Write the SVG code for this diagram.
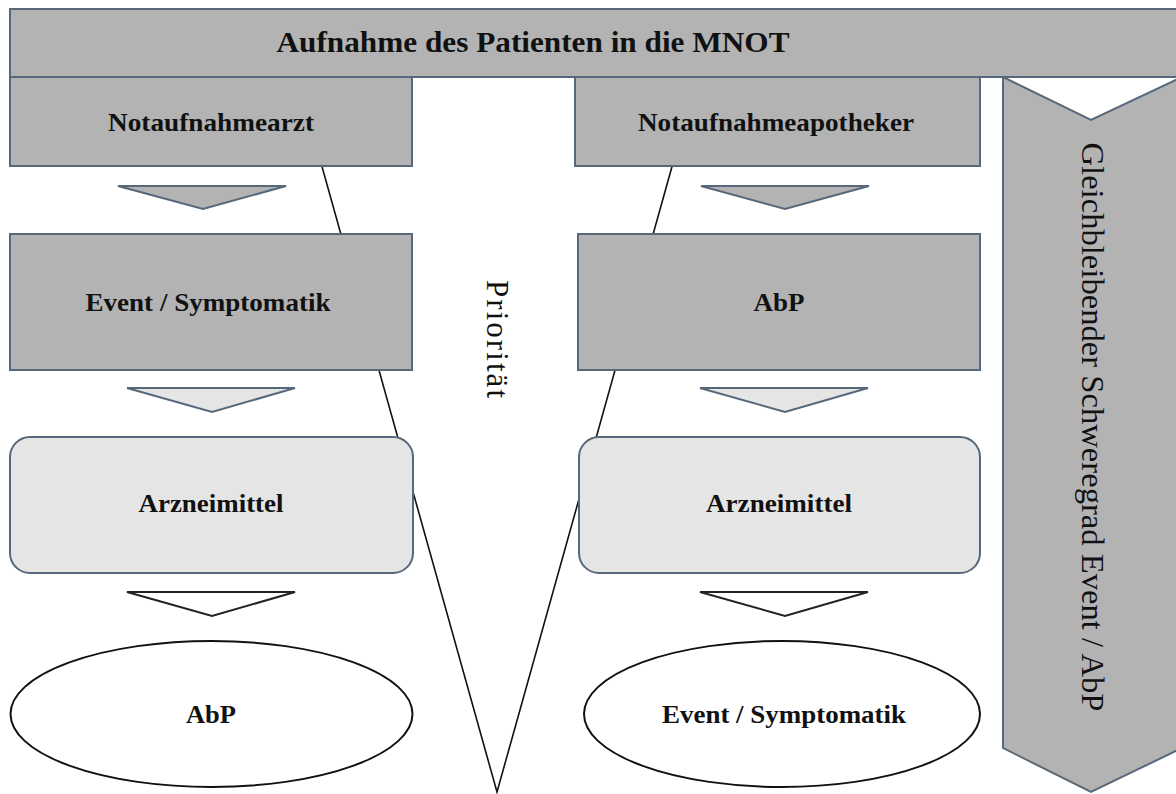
<svg xmlns="http://www.w3.org/2000/svg" width="1176" height="794" viewBox="0 0 1176 794">
<style>
.box{fill:#b3b3b3;stroke:#56687a;stroke-width:2}
.lite{fill:#e5e5e5;stroke:#56687a;stroke-width:2}
.ell{fill:#ffffff;stroke:#111111;stroke-width:2}
.chev1{fill:#b3b3b3;stroke:#56687a;stroke-width:2}
.chev2{fill:#e5e5e5;stroke:#56687a;stroke-width:2}
.chev3{fill:#ffffff;stroke:#222222;stroke-width:2}
.t{font-family:"Liberation Serif","Times New Roman",serif;font-weight:bold;font-size:26px;fill:#111111;text-anchor:middle}
.v{font-family:"Liberation Serif","Times New Roman",serif;fill:#111111;text-anchor:middle}
</style>
<rect width="1176" height="794" fill="#ffffff"/>
<g id="connectors">
<path d="M 300,88 L 497,792 L 694,88" fill="none" stroke="#111111" stroke-width="1.6"/>
</g>
<g id="severity">
<polygon class="box" points="1003,77 1091,120 1182,77 1182,748 1091,792 1003,748"/>
<text class="v" transform="translate(1082,427) rotate(90)" style="font-size:32px" textLength="569" lengthAdjust="spacingAndGlyphs">Gleichbleibender Schweregrad Event / AbP</text>
</g>
<g id="banner">
<rect class="box" x="10" y="9" width="1180" height="68"/>
<text class="t" x="533" y="52" style="font-size:29px" textLength="513" lengthAdjust="spacingAndGlyphs">Aufnahme des Patienten in die MNOT</text>
</g>
<g id="arzt">
<rect class="box" x="10" y="77" width="402" height="89"/>
<text class="t" x="211" y="131" textLength="206" lengthAdjust="spacingAndGlyphs">Notaufnahmearzt</text>
</g>
<g id="apotheker">
<rect class="box" x="575" y="77" width="405" height="89"/>
<text class="t" x="776" y="131" textLength="276" lengthAdjust="spacingAndGlyphs">Notaufnahmeapotheker</text>
</g>
<g id="chev-l1"><polygon class="chev1" points="118,186 286,186 203,209"/></g>
<g id="chev-r1"><polygon class="chev1" points="701,186 869,186 785,209"/></g>
<g id="event-l">
<rect class="box" x="10" y="234" width="402" height="136"/>
<text class="t" x="208" y="311" textLength="245" lengthAdjust="spacingAndGlyphs">Event / Symptomatik</text>
</g>
<g id="abp-r">
<rect class="box" x="578" y="234" width="402" height="136"/>
<text class="t" x="779" y="311" textLength="51" lengthAdjust="spacingAndGlyphs">AbP</text>
</g>
<g id="prioritaet">
<text class="v" transform="translate(487,339) rotate(90)" style="font-size:31px" textLength="118">Priorität</text>
</g>
<g id="chev-l2"><polygon class="chev2" points="127,388 295,388 212,412"/></g>
<g id="chev-r2"><polygon class="chev2" points="700,388 868,388 785,412"/></g>
<g id="arznei-l">
<rect class="lite" x="10" y="437" width="403" height="136" rx="20" ry="20"/>
<text class="t" x="211" y="512" textLength="145" lengthAdjust="spacingAndGlyphs">Arzneimittel</text>
</g>
<g id="arznei-r">
<rect class="lite" x="579" y="437" width="401" height="136" rx="20" ry="20"/>
<text class="t" x="779" y="512" textLength="146" lengthAdjust="spacingAndGlyphs">Arzneimittel</text>
</g>
<g id="chev-l3"><polygon class="chev3" points="127,592 295,592 212,616"/></g>
<g id="chev-r3"><polygon class="chev3" points="700,592 868,592 785,616"/></g>
<g id="abp-l">
<ellipse class="ell" cx="211.5" cy="714" rx="201" ry="73"/>
<text class="t" x="211" y="723" textLength="50" lengthAdjust="spacingAndGlyphs">AbP</text>
</g>
<g id="event-r">
<ellipse class="ell" cx="782" cy="714" rx="198" ry="73"/>
<text class="t" x="784" y="723" textLength="244" lengthAdjust="spacingAndGlyphs">Event / Symptomatik</text>
</g>
</svg>
